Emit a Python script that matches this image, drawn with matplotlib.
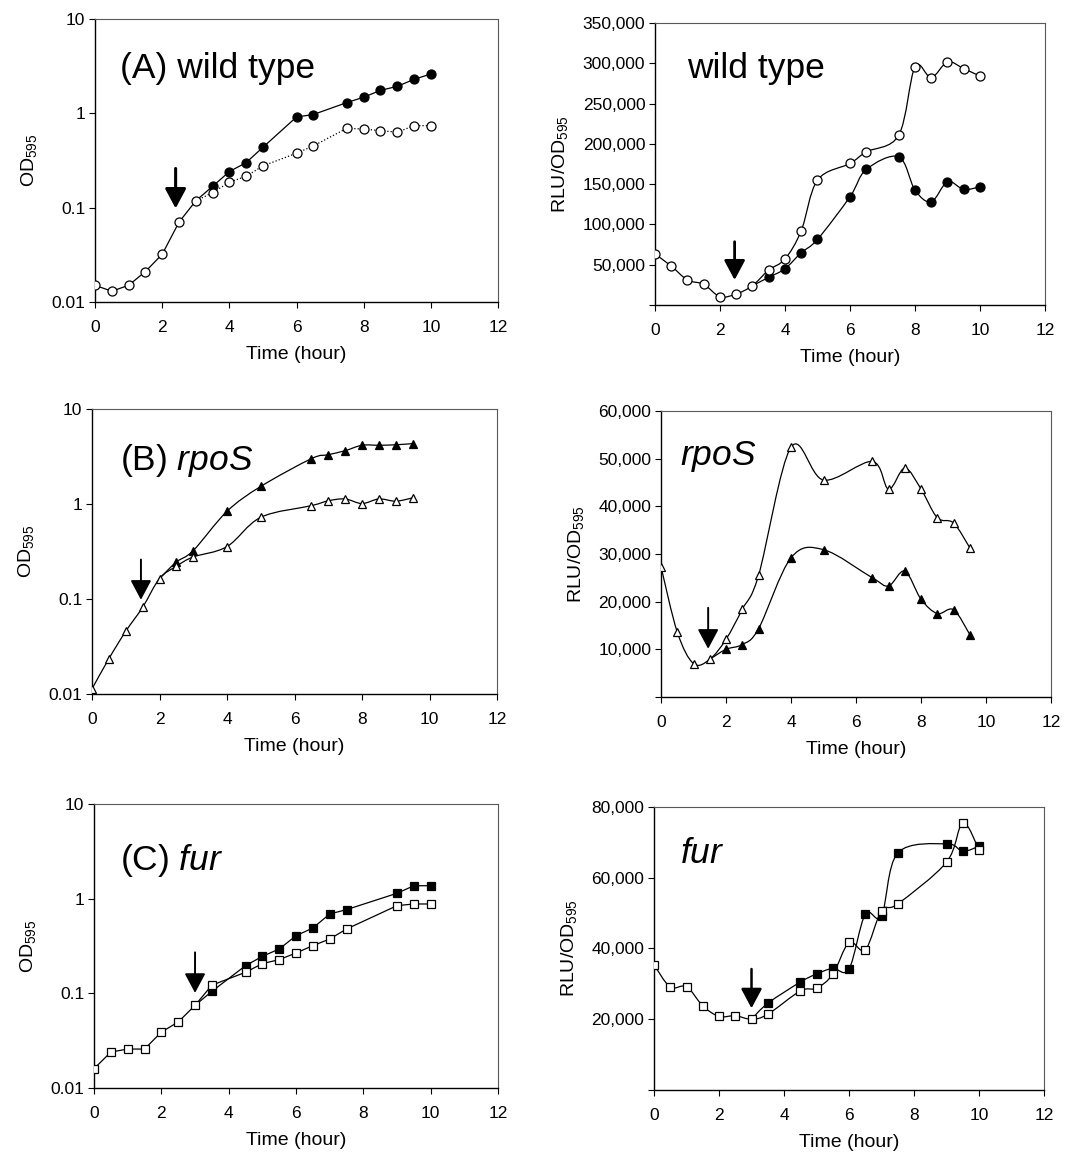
import matplotlib
matplotlib.use("Agg")
import matplotlib.pyplot as plt
import numpy as np
from matplotlib.path import Path
from matplotlib.patches import PathPatch
from matplotlib.ticker import FixedLocator, FuncFormatter

plt.rcParams['font.family'] = ['Liberation Sans', 'DejaVu Sans']
plt.rcParams['mathtext.fontset'] = 'custom'
plt.rcParams['mathtext.rm'] = 'Liberation Sans'
plt.rcParams['mathtext.it'] = 'Liberation Sans:italic'

# ---- (A) wild type ----
t_a = [0, 0.5, 1, 1.5, 2, 2.5, 3, 3.5, 4, 4.5, 5, 6, 6.5, 7.5, 8, 8.5, 9, 9.5, 10]
od_a_open = [0.015, 0.013, 0.015, 0.021, 0.032, 0.070, 0.118, 0.144, 0.186, 0.215,
             0.277, 0.377, 0.451, 0.694, 0.68, 0.655, 0.63, 0.74, 0.74]
t_a_fill = [3, 3.5, 4, 4.5, 5, 6, 6.5, 7.5, 8, 8.5, 9, 9.5, 10]
od_a_fill = [0.118, 0.168, 0.241, 0.30, 0.436, 0.914, 0.97, 1.30, 1.48, 1.75, 1.93, 2.29, 2.61]
rlu_a_open = [63200, 48300, 31000, 25600, 10300, 13600, 24000, 43400, 57000, 92100,
              155000, 175600, 190000, 210700, 295500, 282200, 301600, 293400, 284000]
rlu_a_fill = [24000, 34300, 45000, 64900, 81400, 134300, 168200, 183900, 142600,
              128100, 152900, 143400, 146700]

# ---- (B) rpoS ----
t_b = [0, 0.5, 1, 1.5, 2, 2.5, 3, 4, 5, 6.5, 7, 7.5, 8, 8.5, 9, 9.5]
od_b_open = [0.0113, 0.0235, 0.0457, 0.0817, 0.164, 0.221, 0.277, 0.356, 0.724,
             0.96, 1.08, 1.13, 1.01, 1.13, 1.07, 1.16]
t_b_fill = [2, 2.5, 3, 4, 5, 6.5, 7, 7.5, 8, 8.5, 9, 9.5]
od_b_fill = [0.164, 0.245, 0.323, 0.837, 1.53, 3.0, 3.30, 3.64, 4.15, 4.15, 4.2, 4.32]
rlu_b_open = [27300, 13600, 7000, 7900, 12100, 18400, 25500, 52400, 45500, 49400,
              43600, 48000, 43600, 37600, 36500, 31300]
t_b_fill_r = [1.5, 2, 2.5, 3, 4, 5, 6.5, 7, 7.5, 8, 8.5, 9, 9.5]
rlu_b_fill = [7900, 10000, 11000, 14300, 29200, 30900, 25000, 23300, 26400, 20500,
              17500, 18300, 13100]

# ---- (C) fur ----
t_c = [0, 0.5, 1, 1.5, 2, 2.5, 3, 3.5, 4.5, 5, 5.5, 6, 6.5, 7, 7.5, 9, 9.5, 10]
od_c_open = [0.016, 0.024, 0.0258, 0.0258, 0.039, 0.0498, 0.0747, 0.122, 0.167, 0.206,
             0.227, 0.267, 0.319, 0.375, 0.478, 0.844, 0.879, 0.879]
t_c_fill = [3, 3.5, 4.5, 5, 5.5, 6, 6.5, 7, 7.5, 9, 9.5, 10]
od_c_fill = [0.0747, 0.105, 0.196, 0.246, 0.294, 0.406, 0.490, 0.689, 0.766, 1.14, 1.37, 1.37]
rlu_c_open = [35400, 29100, 29200, 23800, 20800, 21000, 20000, 21400, 28000, 28800,
              32700, 41700, 39600, 50700, 52600, 64400, 75500, 67900]
rlu_c_fill = [20000, 24500, 30500, 32800, 34400, 34200, 49700, 49200, 67000, 69600,
              67500, 68900]

# arrows: (time, tail value, head value)
arrows = {
    'A_od': (2.4, 0.26, 0.098), 'A_rlu': (2.45, 78500, 31000),
    'B_od': (1.45, 0.26, 0.098), 'B_rlu': (1.45, 18700, 10100),
    'C_od': (3.0, 0.271, 0.101), 'C_rlu': (3.0, 34200, 23100),
}


def smooth_path(x, y, log=False):
    # Excel-like smoothed line (Catmull-Rom as cubic Bezier)
    x = np.asarray(x, float)
    y = np.log10(y) if log else np.asarray(y, float)
    pts = np.column_stack([x, y])
    n = len(pts)
    verts = [pts[0]]
    codes = [Path.MOVETO]
    for i in range(n - 1):
        p0 = pts[i - 1] if i > 0 else pts[i]
        p1 = pts[i]
        p2 = pts[i + 1]
        p3 = pts[i + 2] if i + 2 < n else pts[i + 1]
        verts += [p1 + (p2 - p0) / 6, p2 - (p3 - p1) / 6, p2]
        codes += [Path.CURVE4] * 3
    verts = np.array(verts)
    if log:
        verts[:, 1] = 10 ** verts[:, 1]
    return Path(verts, codes)


def draw_line(ax, x, y, smooth=False, log=False, ls='-'):
    if smooth:
        ax.add_patch(PathPatch(smooth_path(x, y, log), fill=False, edgecolor='black',
                               lw=0.9, ls=ls, zorder=2))
    else:
        ax.plot(x, y, color='black', lw=0.9, ls=ls, zorder=2)


def markers(ax, x, y, marker, filled, skip_first=False, ms=6):
    if skip_first:
        x, y = x[1:], y[1:]
    ax.plot(x, y, ls='none', marker=marker, ms=ms, mew=0.9, mec='black',
            mfc='black' if filled else 'white', zorder=4 if not filled else 3)


def style(ax, log, ylim, yticks=None):
    ax.set_xlim(0, 12)
    ax.set_xticks(range(0, 13, 2))
    if log:
        ax.set_yscale('log')
        ax.set_ylim(0.01, 10)
        ax.yaxis.set_major_locator(FixedLocator([0.01, 0.1, 1, 10]))
        ax.yaxis.set_minor_locator(FixedLocator([]))
        ax.yaxis.set_major_formatter(FuncFormatter(lambda v, p: f'{v:g}'))
        ax.set_ylabel(r'OD$_{\mathregular{595}}$', fontsize=14, labelpad=9)
    else:
        ax.set_ylim(*ylim)
        ax.set_yticks(yticks)
        ax.yaxis.set_major_formatter(FuncFormatter(lambda v, p: '' if v == 0 else f'{int(v):,}'))
        ax.set_ylabel(r'RLU/OD$_{\mathregular{595}}$', fontsize=14, labelpad=9)
    ax.set_xlabel('Time (hour)', fontsize=14, labelpad=8)
    ax.tick_params(axis='x', direction='out', length=4, width=0.8, pad=9, labelsize=12.5)
    ax.tick_params(axis='y', direction='out', length=4, width=0.8, pad=3, labelsize=12.5)
    for s in ('left', 'bottom'):
        ax.spines[s].set_linewidth(1.0)
    for s in ('top', 'right'):
        ax.spines[s].set_linewidth(0.8)
        ax.spines[s].set_color('0.35')


def arrow(ax, key, lw):
    t, y0, y1 = arrows[key]
    ax.annotate('', xy=(t, y1), xytext=(t, y0),
                arrowprops=dict(arrowstyle='-|>,head_length=0.6,head_width=0.32',
                                mutation_scale=20, lw=lw, color='black',
                                shrinkA=0, shrinkB=0), zorder=5)


fig = plt.figure(figsize=(10.81, 11.56), dpi=100)
axA1 = fig.add_axes([0.0879, 0.7388, 0.3728, 0.2448])
axA2 = fig.add_axes([0.6059, 0.7362, 0.3608, 0.2439])
axB1 = fig.add_axes([0.0851, 0.3997, 0.3747, 0.2465])
axB2 = fig.add_axes([0.6115, 0.3971, 0.3608, 0.2474])
axC1 = fig.add_axes([0.0870, 0.0588, 0.3737, 0.2457])
axC2 = fig.add_axes([0.6050, 0.0571, 0.3608, 0.2448])

# A left
draw_line(axA1, t_a[:7], od_a_open[:7])
draw_line(axA1, t_a[6:], od_a_open[6:], ls=':')
draw_line(axA1, t_a_fill, od_a_fill)
markers(axA1, t_a_fill, od_a_fill, 'o', True, skip_first=True, ms=6.5)
markers(axA1, t_a, od_a_open, 'o', False, ms=6.5)
style(axA1, True, None)
arrow(axA1, 'A_od', 2.2)
axA1.text(0.062, 0.79, '(A) wild type', transform=axA1.transAxes, fontsize=25.5)

# A right
draw_line(axA2, t_a, rlu_a_open, smooth=True)
draw_line(axA2, t_a_fill, rlu_a_fill, smooth=True)
markers(axA2, t_a_fill, rlu_a_fill, 'o', True, skip_first=True, ms=6.5)
markers(axA2, t_a, rlu_a_open, 'o', False, ms=6.5)
style(axA2, False, (0, 350000), range(0, 350001, 50000))
arrow(axA2, 'A_rlu', 2.0)
axA2.text(0.082, 0.805, 'wild type', transform=axA2.transAxes, fontsize=25.5)

# B left
draw_line(axB1, t_b, od_b_open, smooth=True, log=True)
draw_line(axB1, t_b_fill, od_b_fill, smooth=True, log=True)
markers(axB1, t_b_fill, od_b_fill, '^', True, skip_first=True)
markers(axB1, t_b, od_b_open, '^', False)
style(axB1, True, None)
arrow(axB1, 'B_od', 1.4)
axB1.text(0.069, 0.786, r'(B) $\mathit{rpoS}$', transform=axB1.transAxes, fontsize=25.5)

# B right
draw_line(axB2, t_b, rlu_b_open, smooth=True)
draw_line(axB2, t_b_fill_r, rlu_b_fill, smooth=True)
markers(axB2, t_b_fill_r, rlu_b_fill, '^', True, skip_first=True)
markers(axB2, t_b, rlu_b_open, '^', False)
style(axB2, False, (0, 60000), range(0, 60001, 10000))
arrow(axB2, 'B_rlu', 1.4)
axB2.text(0.049, 0.811, r'$\mathit{rpoS}$', transform=axB2.transAxes, fontsize=25.5)

# C left
draw_line(axC1, t_c, od_c_open)
draw_line(axC1, t_c_fill, od_c_fill)
markers(axC1, t_c_fill, od_c_fill, 's', True, skip_first=True, ms=5.5)
markers(axC1, t_c, od_c_open, 's', False, ms=5.5)
style(axC1, True, None)
arrow(axC1, 'C_od', 1.4)
axC1.text(0.064, 0.768, r'(C) $\mathit{fur}$', transform=axC1.transAxes, fontsize=25.5)

# C right
draw_line(axC2, t_c, rlu_c_open, smooth=True)
draw_line(axC2, t_c_fill, rlu_c_fill, smooth=True)
markers(axC2, t_c_fill, rlu_c_fill, 's', True, skip_first=True, ms=5.5)
markers(axC2, t_c, rlu_c_open, 's', False, ms=5.5)
style(axC2, False, (0, 80000), range(0, 80001, 20000))
arrow(axC2, 'C_rlu', 1.8)
axC2.text(0.067, 0.802, r'$\mathit{fur}$', transform=axC2.transAxes, fontsize=25.5)

fig.savefig('out.png', dpi=100)
